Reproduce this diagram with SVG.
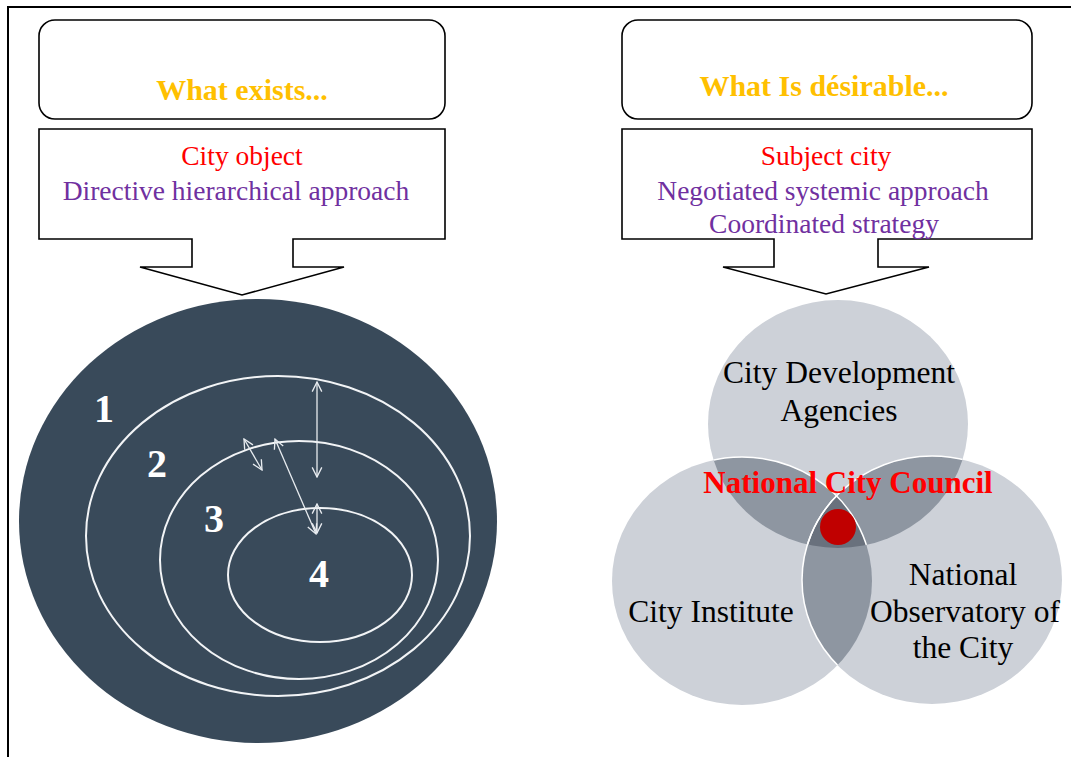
<svg xmlns="http://www.w3.org/2000/svg" width="1071" height="757" viewBox="0 0 1071 757">
<style>
.box{fill:#fff;stroke:#000;stroke-width:1.6}
.head{font-family:"Liberation Serif","Times New Roman",serif;font-weight:bold;font-size:30px;fill:#FFC000;text-anchor:middle}
.red{font-family:"Liberation Serif","Times New Roman",serif;font-size:27.5px;fill:#FF0000;text-anchor:middle}
.pur{font-family:"Liberation Serif","Times New Roman",serif;font-size:27.5px;fill:#7030A0;text-anchor:middle}
.num{font-family:"Liberation Serif","Times New Roman",serif;font-weight:bold;font-size:40px;fill:#fff;text-anchor:middle}
.ring{fill:none;stroke:#F2F4F6;stroke-width:2}
.arr{stroke:#E8ECF0;stroke-width:1.3;fill:none;marker-start:url(#ah);marker-end:url(#ah)}
.vlab{font-family:"Liberation Serif","Times New Roman",serif;font-size:31.5px;fill:#000;text-anchor:middle}
.light{fill:#CDD1D8}
.mid{fill:#8E96A1}
.dark{fill:#69717D}
.vedge{fill:none;stroke:#fff;stroke-width:1.5}
</style>
<defs>
<marker id="ah" viewBox="0 0 10 10" refX="9" refY="5" markerWidth="12" markerHeight="12" markerUnits="userSpaceOnUse" orient="auto-start-reverse">
<path d="M1,1 L9,5 L1,9" fill="none" stroke="#E8ECF0" stroke-width="1.1"/>
</marker>
<clipPath id="cT"><ellipse cx="838" cy="424" rx="130" ry="124"/></clipPath>
<clipPath id="cL"><ellipse cx="742" cy="581" rx="130" ry="124"/></clipPath>
<clipPath id="cR"><ellipse cx="932" cy="580" rx="130" ry="124"/></clipPath>
</defs>
<rect width="1071" height="757" fill="#fff"/>
<path d="M8,757 L8,7 L1071,7" fill="none" stroke="#000" stroke-width="2"/>

<g id="left-header">
<rect class="box" x="39" y="20" width="406" height="99" rx="16"/>
<text class="head" x="242" y="100">What exists...</text>
</g>
<g id="left-callout">
<path class="box" d="M39,129 L445,129 L445,239 L293,239 L293,267 L344,267 L242,295 L140,267 L192,267 L192,239 L39,239 Z"/>
<text class="red" x="242" y="165">City object</text>
<text class="pur" x="236" y="200">Directive hierarchical approach</text>
</g>

<g id="right-header">
<rect class="box" x="622" y="20" width="410" height="99" rx="16"/>
<text class="head" x="824" y="96">What Is désirable...</text>
</g>
<g id="right-callout">
<path class="box" d="M622,129 L1032,129 L1032,239 L878,239 L878,267 L929,267 L826,294 L723,267 L774,267 L774,239 L622,239 Z"/>
<text class="red" x="826" y="165">Subject city</text>
<text class="pur" x="823" y="200">Negotiated systemic approach</text>
<text class="pur" x="824" y="233">Coordinated strategy</text>
</g>

<g id="circles-left">
<ellipse cx="258" cy="521" rx="239" ry="222" fill="#394A5A"/>
<ellipse class="ring" cx="278" cy="536" rx="192" ry="160"/>
<ellipse class="ring" cx="299" cy="560" rx="139" ry="119"/>
<ellipse class="ring" cx="320" cy="575" rx="92" ry="67"/>
<text class="num" x="104" y="422">1</text>
<text class="num" x="157" y="477">2</text>
<text class="num" x="214" y="532">3</text>
<text class="num" x="319" y="587">4</text>
</g>

<g id="connectors">
<line class="arr" x1="317" y1="382" x2="317" y2="477"/>
<line class="arr" x1="244" y1="439" x2="262" y2="470"/>
<line class="arr" x1="275" y1="439" x2="316" y2="534"/>
<line class="arr" x1="317" y1="504" x2="317" y2="533"/>
</g>

<g id="venn">
<ellipse class="light" cx="838" cy="424" rx="130" ry="124"/>
<ellipse class="light" cx="742" cy="581" rx="130" ry="124"/>
<ellipse class="light" cx="932" cy="580" rx="130" ry="124"/>
<g clip-path="url(#cT)">
<ellipse class="mid" cx="742" cy="581" rx="130" ry="124"/>
<ellipse class="mid" cx="932" cy="580" rx="130" ry="124"/>
</g>
<g clip-path="url(#cL)">
<ellipse class="mid" cx="932" cy="580" rx="130" ry="124"/>
</g>
<g clip-path="url(#cT)"><g clip-path="url(#cL)"><ellipse class="dark" cx="932" cy="580" rx="130" ry="124"/></g></g>
<g clip-path="url(#cT)">
<ellipse class="vedge" cx="742" cy="581" rx="130" ry="124"/>
<ellipse class="vedge" cx="932" cy="580" rx="130" ry="124"/>
</g>
<g clip-path="url(#cL)">
<ellipse class="vedge" cx="932" cy="580" rx="130" ry="124"/>
</g>
<circle cx="838" cy="527" r="18" fill="#C00000"/>
</g>
<g id="node-cda"><text class="vlab" x="839" y="383">City Development</text><text class="vlab" x="839" y="421">Agencies</text></g>
<g id="node-ci"><text class="vlab" x="711" y="622">City Institute</text></g>
<g id="node-noc"><text class="vlab" x="963" y="585">National</text><text class="vlab" x="965" y="622">Observatory of</text><text class="vlab" x="963" y="658">the City</text></g>
<g id="node-ncc"><text x="848" y="493" font-family="'Liberation Serif','Times New Roman',serif" font-weight="bold" font-size="31" fill="#FF0000" text-anchor="middle">National City Council</text></g>
</svg>
